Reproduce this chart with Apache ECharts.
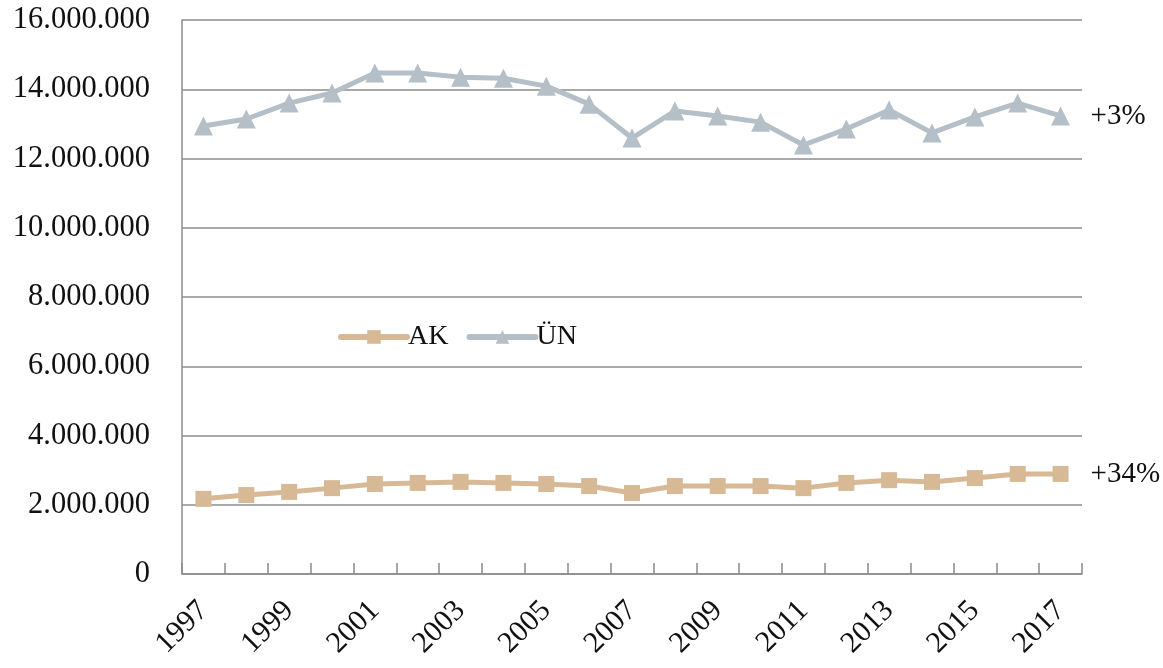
<!DOCTYPE html>
<html>
<head>
<meta charset="utf-8">
<script src="https://cdn.jsdelivr.net/npm/echarts@6/dist/echarts.min.js"></script>
<style>html,body{margin:0;padding:0;background:#fff}#c{width:1163px;height:668px}</style>
</head>
<body>
<div id="c"></div>
<script>
const years = ['1997','1998','1999','2000','2001','2002','2003','2004','2005','2006','2007','2008','2009','2010','2011','2012','2013','2014','2015','2016','2017'];
const akValues = [2170000,2280000,2370000,2480000,2600000,2630000,2660000,2630000,2600000,2540000,2340000,2540000,2540000,2540000,2480000,2630000,2710000,2660000,2770000,2890000,2890000];
const unValues = [12940000,13140000,13600000,13890000,14470000,14470000,14350000,14320000,14090000,13570000,12590000,13370000,13230000,13050000,12390000,12850000,13400000,12740000,13200000,13600000,13230000];
const yTicks = {min:0, max:16000000, interval:2000000};
const endLabels = {AK:'+34%', UN:'+3%'};

const font = '"Liberation Serif", "Times New Roman", serif';
const chart = echarts.init(document.getElementById('c'), null, {renderer:'canvas'});
function fmt(v){ return String(v).replace(/\B(?=(\d{3})+(?!\d))/g, '.'); }
chart.setOption({
  animation:false,
  backgroundColor:'#fff',
  textStyle:{fontFamily:font},
  grid:{left:182, right:81, top:20, bottom:94, containLabel:false},
  legend:{
    left:333, top:318, itemWidth:66, itemHeight:17, itemGap:18,
    lineStyle:{width:6, cap:'round'},
    textStyle:{fontFamily:font, fontSize:28, color:'#111', padding:[0,0,0,-4]},
    data:['AK','ÜN']
  },
  xAxis:{
    type:'category', data:years, boundaryGap:true,
    axisLine:{lineStyle:{color:'#8c8c8c', width:1.5}},
    axisTick:{show:true, inside:true, length:11, interval:0, lineStyle:{color:'#8c8c8c', width:1.5}},
    axisLabel:{interval:1, rotate:45, margin:32, fontFamily:font, fontSize:30, color:'#111'}
  },
  yAxis:{
    type:'value', min:yTicks.min, max:yTicks.max, interval:yTicks.interval,
    axisLine:{show:true, lineStyle:{color:'#8c8c8c', width:1.5}},
    axisTick:{show:false},
    splitLine:{lineStyle:{color:'#8c8c8c', width:1.5}},
    axisLabel:{margin:32, fontFamily:font, fontSize:30.5, color:'#111', formatter:fmt}
  },
  series:[
    {name:'AK', type:'line', data:akValues, symbol:'rect', symbolSize:16,
     itemStyle:{color:'#d8b996'}, lineStyle:{color:'#d8b996', width:5},
     endLabel:{show:true, formatter:endLabels.AK, distance:30, fontFamily:font, fontSize:29, color:'#111'}},
    {name:'ÜN', type:'line', data:unValues, symbol:'triangle', symbolSize:19,
     itemStyle:{color:'#b5bfc7'}, lineStyle:{color:'#b5bfc7', width:5},
     endLabel:{show:true, formatter:endLabels.UN, distance:30, fontFamily:font, fontSize:29, color:'#111'}}
  ]
});
</script>
</body>
</html>
